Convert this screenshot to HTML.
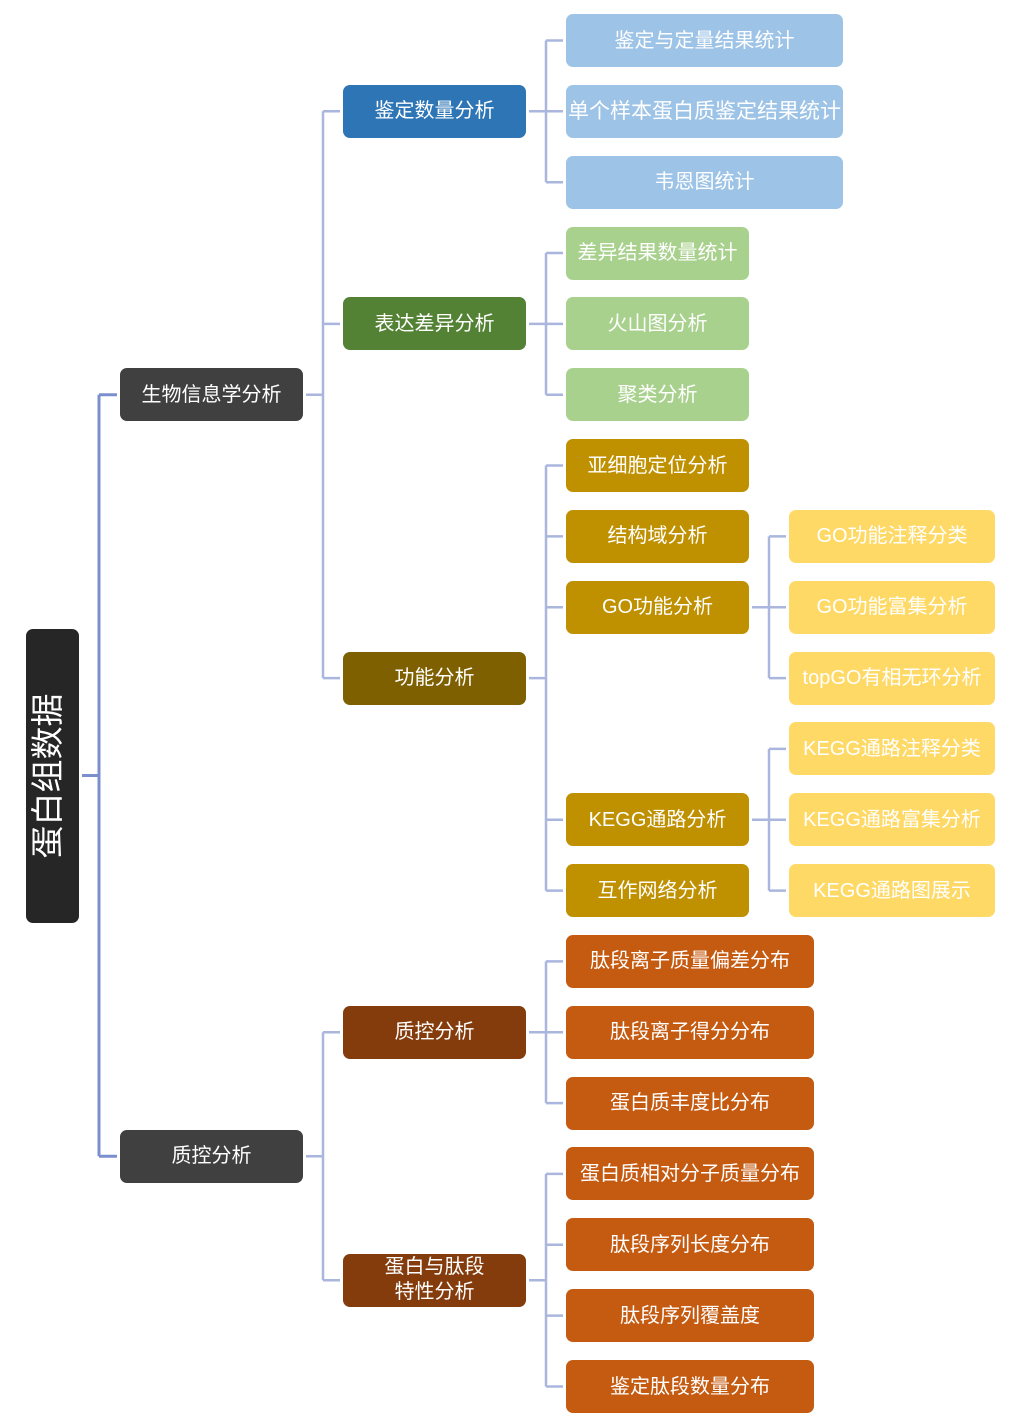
<!DOCTYPE html>
<html>
<head>
<meta charset="utf-8">
<style>
  html,body{margin:0;padding:0;background:#fff;}
  body{width:1029px;height:1427px;position:relative;overflow:hidden;
    font-family:"Liberation Sans","Noto Sans CJK SC",sans-serif;}
  .b{position:absolute;height:53px;border-radius:7px;color:#fff;font-size:20px;
    display:flex;align-items:center;justify-content:center;line-height:1;white-space:nowrap;}
  .l0{left:120px;width:183px;background:#404040;}
  .l1{left:343px;width:183px;}
  .l2{left:566px;}
  .l3{left:789px;width:206px;background:#ffd966;}
  .blue1{background:#2e75b6;}
  .blue2{background:#9dc3e6;width:277px;}
  .green1{background:#548235;}
  .green2{background:#a9d18e;width:183px;}
  .gold1{background:#7f6000;}
  .gold2{background:#bf9000;width:183px;}
  .br1{background:#843c0c;}
  .or2{background:#c55a11;width:248px;}
  svg{position:absolute;left:0;top:0;}
</style>
</head>
<body>
<svg width="1029" height="1427" viewBox="0 0 1029 1427">
  <g stroke="#7b8fcf" stroke-width="3" fill="none">
    <path d="M82 775.5H99M99 394.7V1156.2M99 394.7H117M99 1156.2H117"/>
  </g>
  <g stroke="#aab6de" stroke-width="2.5" fill="none">
    <path d="M306 394.7H323M323 111.3V678.1M323 111.3H340M323 323.9H340M323 678.1H340"/>
    <path d="M306 1156.2H323M323 1032.3V1280.2M323 1032.3H340M323 1280.2H340"/>
    <path d="M529 111.3H546M546 40.5V182.2M546 40.5H563M546 111.3H563M546 182.2H563"/>
    <path d="M529 323.9H546M546 253V394.7M546 253H563M546 323.9H563M546 394.7H563"/>
    <path d="M529 678.1H546M546 465.5V890.6M546 465.5H563M546 536.4H563M546 607.2H563M546 819.7H563M546 890.6H563"/>
    <path d="M529 1032.3H546M546 961.4V1103.1M546 961.4H563M546 1032.3H563M546 1103.1H563"/>
    <path d="M529 1280.2H546M546 1173.9V1386.5M546 1173.9H563M546 1244.8H563M546 1315.6H563M546 1386.5H563"/>
    <path d="M752 607.2H769M769 536.4V678.1M769 536.4H786M769 607.2H786M769 678.1H786"/>
    <path d="M752 819.7H769M769 748.9V890.6M769 748.9H786M769 819.7H786M769 890.6H786"/>
  </g>
</svg>

<div style="position:absolute;left:26px;top:628.5px;width:53px;height:294px;background:#262626;border-radius:7px;"></div>
<div style="position:absolute;left:48px;top:775.5px;width:0;height:0;">
  <div style="position:absolute;left:-100px;top:-20px;width:200px;height:40px;transform:rotate(-90deg);color:#fff;font-size:33px;line-height:40px;text-align:center;white-space:nowrap;">蛋白组数据</div>
</div>

<div class="b l0" style="top:368.2px;">生物信息学分析</div>
<div class="b l0" style="top:1129.7px;">质控分析</div>

<div class="b l1 blue1" style="top:84.8px;">鉴定数量分析</div>
<div class="b l1 green1" style="top:297.4px;">表达差异分析</div>
<div class="b l1 gold1" style="top:651.6px;">功能分析</div>
<div class="b l1 br1" style="top:1005.8px;">质控分析</div>
<div class="b l1 br1" style="top:1253.7px;flex-direction:column;line-height:25px;">
  <span>蛋白与肽段</span><span>特性分析</span>
</div>

<div class="b l2 blue2" style="top:14px;">鉴定与定量结果统计</div>
<div class="b l2 blue2" style="top:84.8px;font-size:21px;">单个样本蛋白质鉴定结果统计</div>
<div class="b l2 blue2" style="top:155.7px;">韦恩图统计</div>

<div class="b l2 green2" style="top:226.5px;">差异结果数量统计</div>
<div class="b l2 green2" style="top:297.4px;">火山图分析</div>
<div class="b l2 green2" style="top:368.2px;">聚类分析</div>

<div class="b l2 gold2" style="top:439px;">亚细胞定位分析</div>
<div class="b l2 gold2" style="top:509.9px;">结构域分析</div>
<div class="b l2 gold2" style="top:580.7px;">GO功能分析</div>
<div class="b l2 gold2" style="top:793.2px;">KEGG通路分析</div>
<div class="b l2 gold2" style="top:864.1px;">互作网络分析</div>

<div class="b l2 or2" style="top:934.9px;">肽段离子质量偏差分布</div>
<div class="b l2 or2" style="top:1005.8px;">肽段离子得分分布</div>
<div class="b l2 or2" style="top:1076.6px;">蛋白质丰度比分布</div>
<div class="b l2 or2" style="top:1147.4px;">蛋白质相对分子质量分布</div>
<div class="b l2 or2" style="top:1218.3px;">肽段序列长度分布</div>
<div class="b l2 or2" style="top:1289.1px;">肽段序列覆盖度</div>
<div class="b l2 or2" style="top:1360px;">鉴定肽段数量分布</div>

<div class="b l3" style="top:509.9px;">GO功能注释分类</div>
<div class="b l3" style="top:580.7px;">GO功能富集分析</div>
<div class="b l3" style="top:651.6px;">topGO有相无环分析</div>
<div class="b l3" style="top:722.4px;">KEGG通路注释分类</div>
<div class="b l3" style="top:793.2px;">KEGG通路富集分析</div>
<div class="b l3" style="top:864.1px;">KEGG通路图展示</div>
</body>
</html>
